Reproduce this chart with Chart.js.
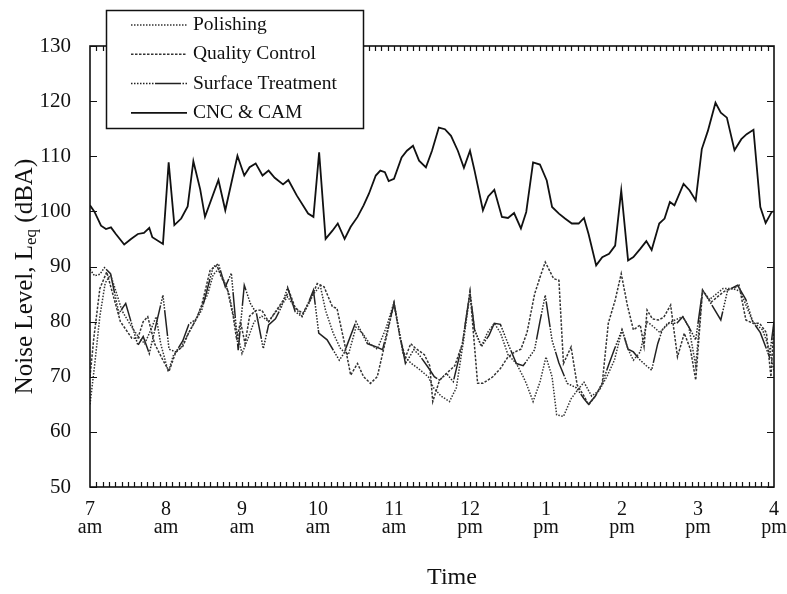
<!DOCTYPE html>
<html>
<head>
<meta charset="utf-8">
<script src="https://cdn.jsdelivr.net/npm/chart.js@4.4.1/dist/chart.umd.min.js"></script>
<style>
  html, body { margin: 0; padding: 0; background: #fff; }
  #wrap { width: 787px; height: 594px; }
</style>
</head>
<body>
<div id="wrap"><canvas id="noiseChart" width="787" height="594"></canvas></div>
<script>
// times are hours after 7 am, levels in dBA
const polishingTime = [0, 0.06, 0.13, 0.2, 0.27, 0.33, 0.42, 0.55, 0.65, 0.72, 0.8, 0.87, 0.93, 1.03, 1.1, 1.2, 1.28, 1.38, 1.46, 1.55, 1.62, 1.69, 1.76, 1.83, 1.92, 2.0, 2.08, 2.16, 2.26, 2.35, 2.43, 2.52, 2.6, 2.7, 2.79, 2.87, 2.94, 3.03, 3.1, 3.2, 3.3, 3.4, 3.5, 3.58, 3.68, 3.78, 3.9, 4.0, 4.12, 4.22, 4.32, 4.45, 4.52, 4.62, 4.73, 4.82, 4.92, 5.0, 5.06, 5.15, 5.23, 5.32, 5.4, 5.5, 5.61, 5.7, 5.74, 5.83, 5.92, 6.0, 6.08, 6.14, 6.23, 6.33, 6.41, 6.5, 6.6, 6.7, 6.8, 6.9, 7.0, 7.08, 7.15, 7.24, 7.33, 7.42, 7.5, 7.6, 7.7, 7.8, 7.88, 7.97, 8.06, 8.15, 8.24, 8.33, 8.46, 8.56, 8.63, 8.72, 8.85, 8.94, 9.0];
const polishingLevel = [65, 72, 81, 87, 88.5, 86, 82, 79, 77, 76, 78.5, 80.9, 76, 70.9, 74, 75.4, 77.5, 80, 82.5, 85, 88.5, 89.5, 87.5, 85, 79, 74.2, 77, 80, 81, 80, 81.5, 83, 84.5, 82.5, 81, 83, 85, 86.5, 82, 77.9, 75, 74, 79, 78, 76, 75, 79, 83.5, 74, 72.5, 71.5, 70, 68, 66.5, 65.5, 68, 77, 85, 78.5, 75.5, 78, 79.7, 78, 74, 72.4, 70, 68.8, 65.5, 69, 73.6, 70, 63.1, 62.8, 66, 67.5, 69, 66.5, 67.5, 70, 73, 78.5, 75, 73, 74.5, 80, 79, 78, 79.7, 80.3, 80.9, 79, 72, 85.7, 84, 85, 86, 86, 85.5, 83, 80, 78.5, 75, 71];

const qualityTime = [0, 0.05, 0.13, 0.22, 0.3, 0.4, 0.55, 0.63, 0.7, 0.76, 0.85, 0.96, 1.04, 1.13, 1.22, 1.3, 1.4, 1.47, 1.58, 1.67, 1.73, 1.8, 1.885, 1.93, 1.98, 2.04, 2.1, 2.18, 2.26, 2.35, 2.45, 2.55, 2.62, 2.7, 2.8, 2.9, 2.99, 3.08, 3.19, 3.25, 3.35, 3.43, 3.52, 3.6, 3.69, 3.78, 3.88, 4.0, 4.08, 4.15, 4.22, 4.28, 4.4, 4.47, 4.51, 4.6, 4.69, 4.8, 4.9, 5.0, 5.1, 5.17, 5.3, 5.4, 5.5, 5.59, 5.67, 5.75, 5.85, 5.92, 5.99, 6.1, 6.17, 6.23, 6.33, 6.41, 6.5, 6.56, 6.65, 6.74, 6.82, 6.91, 6.99, 7.07, 7.15, 7.24, 7.29, 7.33, 7.4, 7.48, 7.55, 7.64, 7.73, 7.82, 7.9, 7.97, 8.06, 8.17, 8.3, 8.37, 8.46, 8.54, 8.63, 8.72, 8.81, 8.9, 8.96, 9.0];
const qualityLevel = [70, 77, 86, 89, 85, 80, 77, 77, 80, 80.9, 76, 73, 71, 74.5, 75.5, 78, 80.5, 83, 89.3, 90.2, 88, 86.3, 80.9, 76.7, 80, 76, 81, 82, 82.1, 80, 82, 84, 85.5, 82.5, 81.5, 84, 86.9, 86.3, 82.7, 82.4, 76, 70.3, 72.4, 70, 68.8, 70, 76, 83.3, 77, 73.5, 76, 75.2, 74, 72, 65.5, 69.4, 70.6, 72, 76, 85.4, 68.8, 68.8, 70, 71.5, 73.6, 74.5, 75, 78, 85, 88, 90.8, 87.8, 87.5, 72.4, 75.4, 68.5, 66.5, 64.9, 66.5, 68.8, 79.7, 83.9, 88.7, 83, 78.5, 79.4, 75.5, 82.1, 80.5, 80.3, 80.8, 83, 73.6, 77.9, 75, 69.4, 85.7, 83.5, 85, 85.7, 86, 86.6, 80.3, 79.7, 79.7, 78, 70, 80];

const surfaceTime = [0, 0.06, 0.13, 0.19, 0.27, 0.38, 0.47, 0.63, 0.7, 0.78, 0.87, 0.96, 1.04, 1.13, 1.22, 1.3, 1.4, 1.47, 1.54, 1.62, 1.69, 1.78, 1.86, 1.95, 2.03, 2.11, 2.19, 2.28, 2.35, 2.44, 2.52, 2.6, 2.7, 2.79, 2.87, 2.94, 3.01, 3.12, 3.28, 3.34, 3.5, 3.65, 3.75, 3.85, 4.0, 4.15, 4.26, 4.33, 4.46, 4.53, 4.6, 4.69, 4.78, 4.9, 5.0, 5.06, 5.15, 5.25, 5.32, 5.4, 5.5, 5.61, 5.7, 5.85, 5.92, 5.99, 6.08, 6.17, 6.28, 6.4, 6.5, 6.56, 6.65, 6.74, 6.82, 6.9, 7.0, 7.08, 7.15, 7.24, 7.32, 7.39, 7.47, 7.53, 7.62, 7.72, 7.8, 7.88, 7.97, 8.06, 8.17, 8.3, 8.39, 8.52, 8.63, 8.72, 8.82, 8.94, 9.0];
const surfaceLevel = [89.5, 88.3, 88.6, 89.8, 88.7, 81.5, 83.3, 75.7, 77.3, 74.2, 79.5, 84.8, 75, 74.5, 76.5, 79.5, 80.5, 82.1, 85.7, 89.9, 90.5, 86.3, 88.8, 74.8, 86.6, 83.3, 81.5, 75.1, 79.4, 80.5, 82.7, 86.2, 81.8, 80.9, 83.3, 85.7, 77.9, 76.7, 73, 74.2, 80, 76, 75.5, 74.9, 83.3, 72.4, 74.9, 74, 71.5, 70, 69.4, 70.6, 69.1, 76, 85.4, 78.5, 75.5, 77.5, 79.7, 79.5, 76, 72.4, 72, 74.9, 80, 84.8, 76.6, 72.5, 68.8, 68, 66, 65, 66.5, 68.8, 72, 75, 78.5, 75, 74.5, 73, 72, 71.2, 76, 78.5, 79.7, 79.7, 80.9, 79, 76.7, 85.7, 83.3, 80.3, 85.7, 86.6, 84, 80, 78, 73.6, 80];

const cncTime = [0, 0.06, 0.145, 0.21, 0.276, 0.34, 0.45, 0.54, 0.63, 0.71, 0.78, 0.82, 0.96, 1.035, 1.11, 1.2, 1.285, 1.36, 1.45, 1.513, 1.69, 1.78, 1.94, 2.03, 2.1, 2.18, 2.27, 2.35, 2.43, 2.54, 2.61, 2.72, 2.87, 2.94, 3.015, 3.1, 3.19, 3.26, 3.35, 3.43, 3.52, 3.6, 3.67, 3.76, 3.82, 3.88, 3.93, 4.0, 4.1, 4.17, 4.25, 4.33, 4.42, 4.5, 4.59, 4.67, 4.75, 4.84, 4.92, 5.0, 5.06, 5.17, 5.24, 5.32, 5.42, 5.5, 5.58, 5.67, 5.74, 5.83, 5.92, 6.01, 6.08, 6.17, 6.25, 6.34, 6.43, 6.5, 6.56, 6.66, 6.74, 6.83, 6.91, 6.99, 7.08, 7.15, 7.24, 7.32, 7.39, 7.49, 7.56, 7.63, 7.69, 7.81, 7.89, 7.97, 8.05, 8.13, 8.23, 8.3, 8.38, 8.48, 8.57, 8.64, 8.73, 8.82, 8.89, 8.97, 9.0];
const cncLevel = [101.1, 99.9, 97.4, 96.8, 97.1, 95.9, 94, 95, 95.9, 96.1, 97, 95.3, 94.1, 108.9, 97.5, 98.7, 100.9, 109.1, 104, 99, 105.7, 100.2, 110.1, 106.5, 108, 108.7, 106.5, 107.4, 106.1, 104.9, 105.7, 102.9, 99.6, 99, 110.7, 95, 96.5, 97.8, 95, 97.2, 99, 101.1, 103.2, 106.5, 107.4, 107.1, 105.5, 105.9, 109.8, 111, 111.9, 109.2, 108, 111, 115.2, 114.9, 113.7, 111, 107.9, 111, 107.4, 100.2, 102.7, 103.9, 99, 98.8, 99.7, 96.9, 99.9, 108.9, 108.5, 105.6, 100.8, 99.6, 98.7, 97.8, 97.8, 98.8, 95.9, 90.2, 91.7, 92.3, 93.8, 103.8, 91.1, 91.7, 93.2, 94.6, 93, 97.8, 98.7, 101.7, 101.1, 105, 103.8, 102, 111.3, 114.6, 119.7, 117.9, 117, 111.1, 113.1, 114, 114.8, 100.8, 97.9, 99.9, 100];

const seriesNames = ['Polishing', 'Quality Control', 'Surface Treatment', 'CNC & CAM'];
const xTickLabels = [['7', 'am'], ['8', 'am'], ['9', 'am'], ['10', 'am'], ['11', 'am'], ['12', 'pm'], ['1', 'pm'], ['2', 'pm'], ['3', 'pm'], ['4', 'pm']];
const yTickValues = [50, 60, 70, 80, 90, 100, 110, 120, 130];

const serif = '"Liberation Serif", "Times New Roman", serif';

function toPoints(times, levels) {
    return times.map((t, i) => ({ x: 7 + t, y: levels[i] }));
}

// box, inward ticks, axis titles
const framePlugin = {
    id: 'frame',
    afterDatasetsDraw(chart) {
        const { ctx, chartArea: a, scales: { x, y } } = chart;
        ctx.save();
        ctx.strokeStyle = '#111';
        ctx.lineWidth = 1.6;
        ctx.strokeRect(a.left, a.top, a.right - a.left, a.bottom - a.top);

        ctx.lineWidth = 1.2;
        ctx.beginPath();
        // five minute marks along top and bottom
        for (let m = 5; m < 9 * 60; m += 5) {
            const px = Math.round(x.getPixelForValue(7 + m / 60)) + 0.5;
            ctx.moveTo(px, a.bottom);
            ctx.lineTo(px, a.bottom - 5);
            ctx.moveTo(px, a.top);
            ctx.lineTo(px, a.top + 5);
        }
        yTickValues.forEach(v => {
            const py = Math.round(y.getPixelForValue(v)) + 0.5;
            ctx.moveTo(a.left, py);
            ctx.lineTo(a.left + 7, py);
            ctx.moveTo(a.right, py);
            ctx.lineTo(a.right - 7, py);
        });
        ctx.stroke();

        ctx.fillStyle = '#111';
        // x axis title
        ctx.font = '24px ' + serif;
        ctx.textAlign = 'center';
        ctx.textBaseline = 'middle';
        ctx.fillText('Time', 452, 578);

        // y axis title: Noise Level, Leq (dBA)
        const big = '25px ' + serif;
        const small = '17px ' + serif;
        ctx.textAlign = 'left';
        ctx.translate(25, (a.top + a.bottom) / 2 + 10);
        ctx.rotate(-Math.PI / 2);
        ctx.font = big;
        const w1 = ctx.measureText('Noise Level, L').width;
        const w3 = ctx.measureText(' (dBA)').width;
        ctx.font = small;
        const w2 = ctx.measureText('eq').width;
        const sx = -(w1 + w2 + w3) / 2;
        ctx.font = big;
        ctx.fillText('Noise Level, L', sx, 0);
        ctx.font = small;
        ctx.fillText('eq', sx + w1, 7);
        ctx.font = big;
        ctx.fillText(' (dBA)', sx + w1 + w2, 0);
        ctx.restore();
    }
};

// boxed legend sitting over the top edge
const legendBoxPlugin = {
    id: 'legendBox',
    afterDraw(chart) {
        const { ctx } = chart;
        const left = 106, top = 10, width = 257, height = 118;
        ctx.save();
        ctx.fillStyle = '#fff';
        ctx.fillRect(left, top, width, height);
        ctx.strokeStyle = '#111';
        ctx.lineWidth = 1.5;
        ctx.strokeRect(left + 0.5, top + 0.5, width, height);
        ctx.font = '19.5px ' + serif;
        ctx.textBaseline = 'middle';
        ctx.fillStyle = '#111';
        chart.data.datasets.forEach((ds, i) => {
            const rowY = 25 + i * 29.3;
            ctx.strokeStyle = ds.borderColor;
            ctx.lineWidth = ds.borderWidth;
            ctx.setLineDash(ds.borderDash || []);
            ctx.beginPath();
            ctx.moveTo(131, rowY);
            ctx.lineTo(187, rowY);
            ctx.stroke();
            ctx.setLineDash([]);
            ctx.fillText(ds.label, 193, rowY);
        });
        ctx.restore();
    }
};

const dotted = '#333';

new Chart(document.getElementById('noiseChart'), {
    type: 'line',
    data: {
        datasets: [
            {
                label: seriesNames[0],
                data: toPoints(polishingTime, polishingLevel),
                borderColor: dotted,
                borderWidth: 1.5,
                borderDash: [1.5, 1.5]
            },
            {
                label: seriesNames[1],
                data: toPoints(qualityTime, qualityLevel),
                borderColor: dotted,
                borderWidth: 1.5,
                borderDash: [2.5, 1.5]
            },
            {
                label: seriesNames[2],
                data: toPoints(surfaceTime, surfaceLevel),
                borderColor: '#222',
                borderWidth: 1.5,
                borderDash: [1.5, 1.5, 1.5, 1.5, 1.5, 1.5, 1.5, 1.5, 1.5, 1.5, 1.5, 1.5, 1.5, 1.5, 1.5, 1.5, 26, 1.5]
            },
            {
                label: seriesNames[3],
                data: toPoints(cncTime, cncLevel),
                borderColor: '#111',
                borderWidth: 1.8
            }
        ]
    },
    options: {
        responsive: false,
        animation: false,
        parsing: false,
        elements: {
            point: { radius: 0 },
            line: { tension: 0, borderCapStyle: 'butt', borderJoinStyle: 'miter' }
        },
        layout: { padding: { top: 46, right: 13, left: 0, bottom: 0 } },
        plugins: {
            legend: { display: false },
            tooltip: { enabled: false }
        },
        scales: {
            x: {
                type: 'linear',
                min: 7,
                max: 16,
                grid: { display: false },
                border: { display: false },
                afterFit(scale) {
                    scale.height = 107;
                    scale.paddingLeft = 0;
                    scale.paddingRight = 0;
                },
                ticks: {
                    stepSize: 1,
                    autoSkip: false,
                    maxRotation: 0,
                    padding: 6,
                    color: '#111',
                    font: { family: serif, size: 20, lineHeight: 0.9 },
                    callback: (value) => xTickLabels[Math.round(value) - 7]
                }
            },
            y: {
                min: 50,
                max: 130,
                grid: { display: false },
                border: { display: false },
                afterFit(scale) { scale.width = 90; },
                ticks: {
                    stepSize: 10,
                    padding: 11,
                    color: '#111',
                    font: { family: serif, size: 21 }
                }
            }
        }
    },
    plugins: [framePlugin, legendBoxPlugin]
});
</script>
</body>
</html>
